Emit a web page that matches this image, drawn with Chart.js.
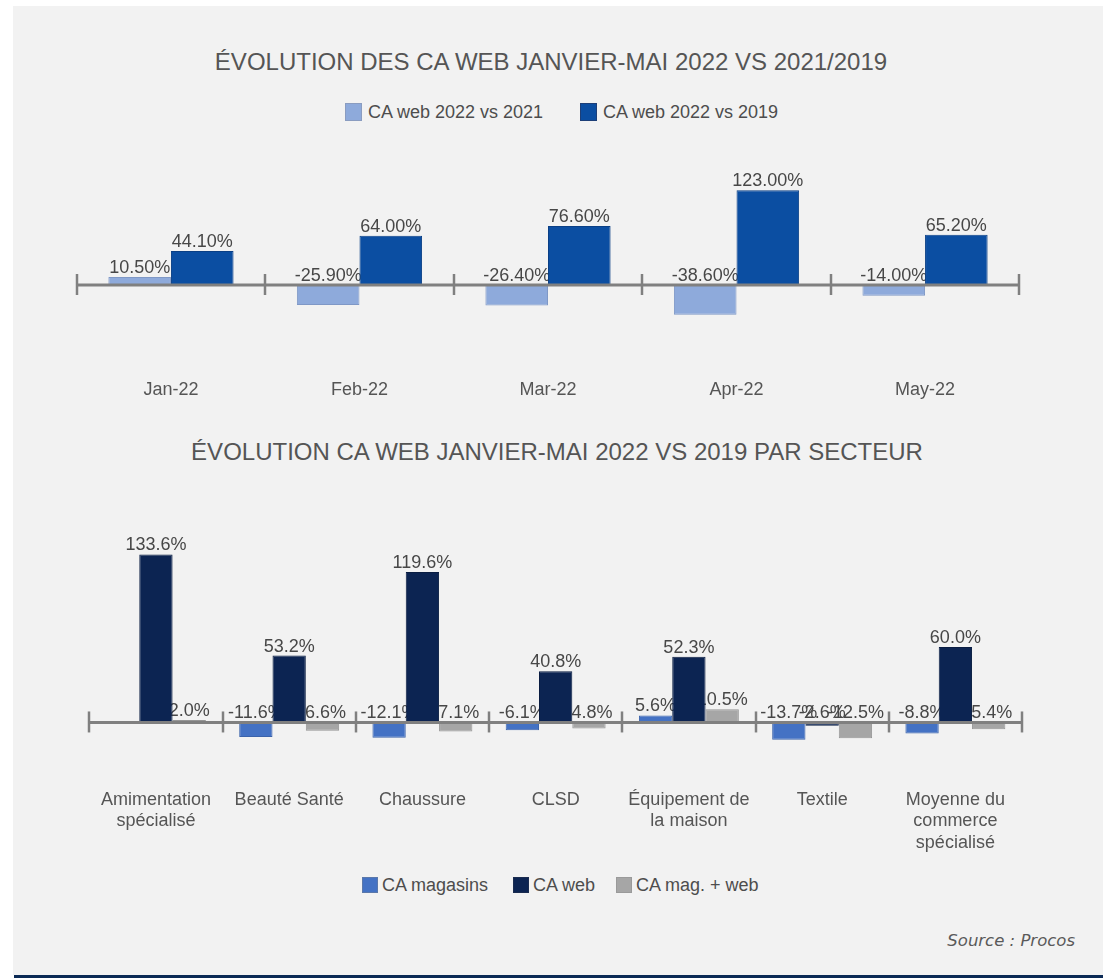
<!DOCTYPE html>
<html lang="fr">
<head>
<meta charset="utf-8">
<title>Évolution des CA web</title>
<script src="https://cdn.jsdelivr.net/npm/chart.js@4.4.1/dist/chart.umd.min.js"></script>
<style>
  html, body { margin: 0; padding: 0; background: #ffffff; }
  body { position: relative; width: 1103px; height: 978px; overflow: hidden;
         font-family: "Liberation Sans", Arial, sans-serif; color: #555; }
  #panel { position: absolute; left: 13px; top: 6px; width: 1090px; height: 969px; background: #f2f2f2; }
  #rule { position: absolute; left: 14px; top: 975px; width: 1089px; height: 3px; background: #0b2a55; }
  .title { position: absolute; font-size: 24px; line-height: 24px; white-space: nowrap;
           transform: translateX(-50%); color: #555; }
  .legend-item { position: absolute; height: 18px; }
  .legend-box { position: absolute; top: 0; width: 16px; height: 16px; box-sizing: border-box; border: 1px solid; }
  .legend-text { position: absolute; top: 0; font-size: 18px; line-height: 17px; white-space: nowrap; color: #4d4d4d; }
  canvas { position: absolute; }
  #source { position: absolute; right: 28px; top: 931px; font-family: "DejaVu Sans", sans-serif;
            font-style: italic; font-size: 16.5px; line-height: 20px; color: #5a5a5a; }
</style>
</head>
<body>
<div id="panel"></div>

<div class="title" style="left:551px; top:50px;">ÉVOLUTION DES CA WEB JANVIER-MAI 2022 VS 2021/2019</div>

<div class="legend-item" style="left:345px; top:103px;">
  <div class="legend-box" style="left:0; width:17px; height:18px; background:#8eaadb; border-color:#8a9cc0;"></div>
  <div class="legend-text" style="left:23px; top:1px;">CA web 2022 vs 2021</div>
</div>
<div class="legend-item" style="left:580px; top:103px;">
  <div class="legend-box" style="left:0; width:17px; height:18px; background:#0b4ea2; border-color:#1d3f78;"></div>
  <div class="legend-text" style="left:23px; top:1px;">CA web 2022 vs 2019</div>
</div>

<canvas id="monthly" width="1090" height="300" style="left:13px; top:130px;"></canvas>

<div class="title" style="left:557px; top:440px;">ÉVOLUTION CA WEB JANVIER-MAI 2022 VS 2019 PAR SECTEUR</div>

<canvas id="sectors" width="1090" height="340" style="left:13px; top:530px;"></canvas>

<div class="legend-item" style="left:362px; top:877px;">
  <div class="legend-box" style="left:0; background:#4472c4; border-color:#5b78aa;"></div>
  <div class="legend-text" style="left:20px;">CA magasins</div>
</div>
<div class="legend-item" style="left:513px; top:877px;">
  <div class="legend-box" style="left:0; background:#0c2452; border-color:#1a2c50;"></div>
  <div class="legend-text" style="left:20px;">CA web</div>
</div>
<div class="legend-item" style="left:616px; top:877px;">
  <div class="legend-box" style="left:0; background:#a6a6a6; border-color:#9a9a9a;"></div>
  <div class="legend-text" style="left:20px;">CA mag. + web</div>
</div>

<div id="source">Source : Procos</div>
<div id="rule"></div>

<script>
// Monthly web turnover change, Jan–May 2022
const months = ['Jan-22', 'Feb-22', 'Mar-22', 'Apr-22', 'May-22'];
const web2022vs2021 = [10.5, -25.9, -26.4, -38.6, -14.0];
const web2022vs2019 = [44.1, 64.0, 76.6, 123.0, 65.2];

// Change vs 2019 by retail sector
const sectors = [
  ['Amimentation', 'spécialisé'],
  ['Beauté Santé'],
  ['Chaussure'],
  ['CLSD'],
  ['Équipement de', 'la maison'],
  ['Textile'],
  ['Moyenne du', 'commerce', 'spécialisé']
];
const caMagasins = [null, -11.6, -12.1, -6.1, 5.6, -13.7, -8.8];
const caWeb      = [133.6, 53.2, 119.6, 40.8, 52.3, -2.6, 60.0];
const caMagWeb   = [2.0, -6.6, -7.1, -4.8, 10.5, -12.5, -5.4];

const FONT = '"Liberation Sans", Arial, sans-serif';

// Percentage labels above each bar (above the zero line for negative bars),
// painted before the bars so neighbouring bars overlap them.
const valueLabels = {
  id: 'valueLabels',
  beforeDatasetsDraw(chart, args, opts) {
    const ctx = chart.ctx;
    const zero = chart.scales.y.getPixelForValue(0);
    ctx.save();
    ctx.font = '18px ' + FONT;
    ctx.fillStyle = '#474747';
    ctx.textAlign = 'center';
    ctx.textBaseline = 'alphabetic';
    chart.data.datasets.forEach((ds, i) => {
      const meta = chart.getDatasetMeta(i);
      meta.data.forEach((bar, j) => {
        const v = ds.data[j];
        if (v === null || v === undefined) return;
        const top = Math.min(bar.y, zero);
        ctx.fillText(v.toFixed(opts.decimals) + '%', bar.x, top - 4);
      });
    });
    ctx.restore();
  }
};

// Zero baseline with tick marks between categories
const baseline = {
  id: 'baseline',
  afterDatasetsDraw(chart) {
    const ctx = chart.ctx;
    const xs = chart.scales.x;
    const y0 = chart.scales.y.getPixelForValue(0);
    const n = chart.data.labels.length;
    ctx.save();
    ctx.strokeStyle = '#808080';
    ctx.lineWidth = 3;
    ctx.beginPath();
    ctx.moveTo(xs.getPixelForValue(-0.5), y0);
    ctx.lineTo(xs.getPixelForValue(n - 0.5), y0);
    ctx.stroke();
    ctx.lineWidth = 2.5;
    for (let i = 0; i <= n; i++) {
      const px = Math.round(xs.getPixelForValue(i - 0.5));
      ctx.beginPath();
      ctx.moveTo(px, y0 - 11);
      ctx.lineTo(px, y0 + 10);
      ctx.stroke();
    }
    ctx.restore();
  }
};

function xScale(padding, height) {
  return {
    type: 'category',
    offset: true,
    grid: { display: false, drawTicks: false },
    border: { display: false },
    ticks: {
      color: '#555',
      font: { family: FONT, size: 18, lineHeight: 1.2 },
      padding: padding,
      autoSkip: false,
      maxRotation: 0,
      minRotation: 0
    },
    afterFit(scale) { scale.height = height; }
  };
}

const common = {
  responsive: false,
  animation: false,
  devicePixelRatio: 1,
  events: [],
};

new Chart(document.getElementById('monthly'), {
  type: 'bar',
  data: {
    labels: months,
    datasets: [
      { label: 'CA web 2022 vs 2021', data: web2022vs2021,
        backgroundColor: '#8eaadb', borderColor: '#7f98c6', borderWidth: 1,
        categoryPercentage: 0.664, barPercentage: 1 },
      { label: 'CA web 2022 vs 2019', data: web2022vs2019,
        backgroundColor: '#0b4ea2', borderColor: '#0a3f85', borderWidth: 1,
        categoryPercentage: 0.664, barPercentage: 1 }
    ]
  },
  options: Object.assign({}, common, {
    layout: { autoPadding: false, padding: { left: 63.7, right: 83.7, top: 20, bottom: 10 } },
    scales: {
      x: xScale(9, 50),
      y: { display: false, min: -110.2, max: 175.1 }
    },
    plugins: {
      legend: { display: false },
      title: { display: false },
      tooltip: { enabled: false },
      valueLabels: { decimals: 2 }
    }
  }),
  plugins: [valueLabels, baseline]
});

new Chart(document.getElementById('sectors'), {
  type: 'bar',
  data: {
    labels: sectors,
    datasets: [
      { label: 'CA magasins', data: caMagasins,
        backgroundColor: '#4472c4', borderColor: '#3b63ab', borderWidth: 1,
        categoryPercentage: 0.75, barPercentage: 1 },
      { label: 'CA web', data: caWeb,
        backgroundColor: '#0c2452', borderColor: '#0a1d42', borderWidth: 1,
        categoryPercentage: 0.75, barPercentage: 1 },
      { label: 'CA mag. + web', data: caMagWeb,
        backgroundColor: '#a6a6a6', borderColor: '#969696', borderWidth: 1,
        categoryPercentage: 0.75, barPercentage: 1 }
    ]
  },
  options: Object.assign({}, common, {
    layout: { autoPadding: false, padding: { left: 76.3, right: 81, top: 15, bottom: 10 } },
    scales: {
      x: xScale(19, 90),
      y: { display: false, min: -37.8, max: 141.1 }
    },
    plugins: {
      legend: { display: false },
      title: { display: false },
      tooltip: { enabled: false },
      valueLabels: { decimals: 1 }
    }
  }),
  plugins: [valueLabels, baseline]
});
</script>
</body>
</html>
